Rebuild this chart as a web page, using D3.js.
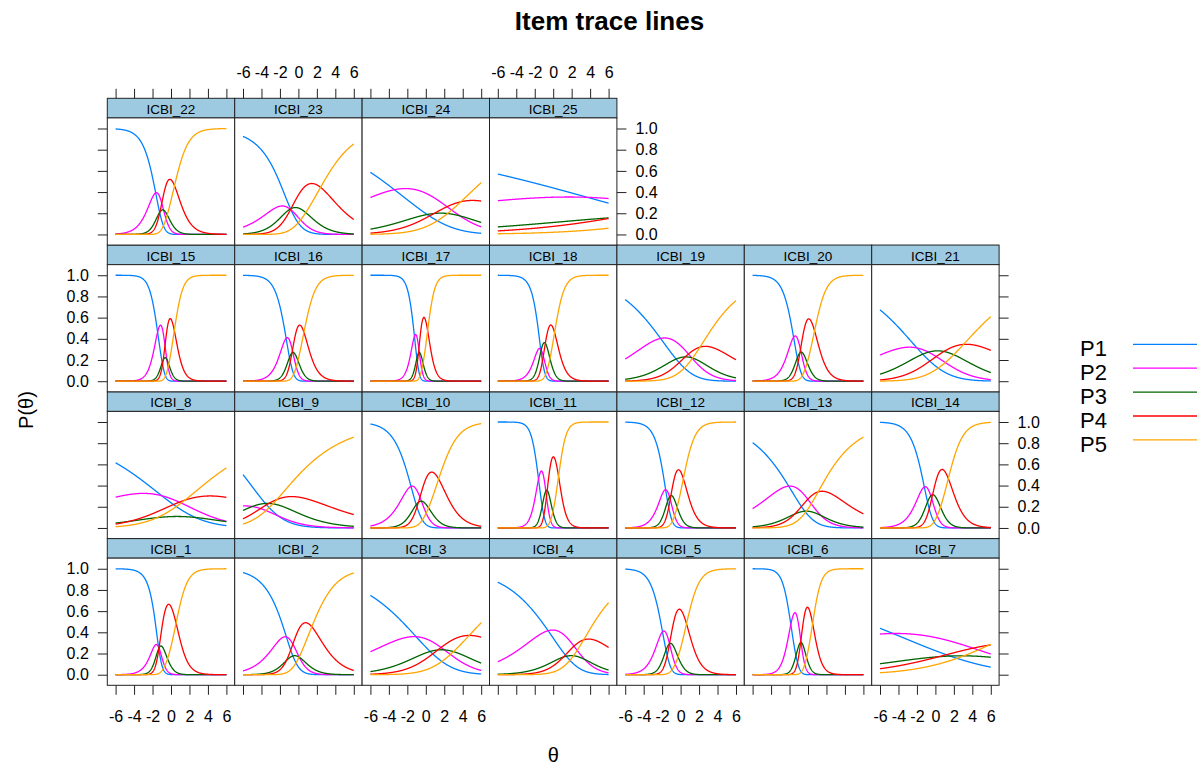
<!DOCTYPE html>
<html>
<head>
<meta charset="utf-8">
<title>Item trace lines</title>
<script src="https://cdn.jsdelivr.net/npm/d3@7"></script>
<style>
  html, body { margin: 0; padding: 0; background: #ffffff; }
  svg { display: block; }
  text { font-family: "Liberation Sans", Arial, "DejaVu Sans", sans-serif; fill: #000; }
</style>
</head>
<body>
<svg id="chart" width="1202" height="769"></svg>
<script>
// ---- Item parameters (generalized partial credit model) ----
const itemNames = [
  "ICBI_1", "ICBI_2", "ICBI_3", "ICBI_4", "ICBI_5", "ICBI_6", "ICBI_7",
  "ICBI_8", "ICBI_9", "ICBI_10", "ICBI_11", "ICBI_12", "ICBI_13", "ICBI_14",
  "ICBI_15", "ICBI_16", "ICBI_17", "ICBI_18", "ICBI_19", "ICBI_20", "ICBI_21",
  "ICBI_22", "ICBI_23", "ICBI_24", "ICBI_25"
];

// discrimination (slope) of each item
const slopes = [
  1.6, 0.7, 0.25, 0.36, 1.4, 2.1, 0.095,
  0.15, 0.23, 0.9, 2.4, 1.5, 0.38, 1.2,
  2.1, 1.5, 2.5, 1.8, 0.34, 1.5, 0.25,
  1.25, 0.5, 0.2, 0.06
];

// step locations: theta where adjacent categories cross (P1/P2, P2/P3, P3/P4, P4/P5)
const steps = [
  [-1.35, -1.30, -1.30, 0.55],
  [-1.30, 0.10, -1.30, 1.45],
  [-1.05, 2.00, 1.30, 4.70],
  [-0.55, 3.40, 1.10, 3.30],
  [-1.96, -1.20, -1.20, 0.64],
  [-1.86, -0.75, -0.80, 0.50],
  [-4.60, 7.80, 0.36, 5.80],
  [-1.00, 6.30, -4.50, 1.50],
  [-2.15, -5.00, -3.20, -2.33],
  [-1.60, -0.47, -0.80, 1.39],
  [-1.59, -0.80, -0.65, 0.58],
  [-1.62, -1.20, -1.05, 0.30],
  [-2.09, 1.40, -1.44, 1.10],
  [-1.20, -0.50, -0.30, 1.40],
  [-1.45, -0.45, -0.85, 0.36],
  [-1.33, -0.60, -0.70, 0.60],
  [-1.23, -0.70, -0.80, 0.20],
  [-1.35, -1.30, -0.85, 0.15],
  [-2.17, 1.20, 0.50, 2.10],
  [-1.56, -0.75, -0.88, 0.71],
  [-1.99, -0.75, 0.92, 3.05],
  [-1.66, -0.80, -1.20, 0.38],
  [-0.80, -0.90, -0.80, 2.40],
  [-3.40, 3.70, 0.90, 3.80],
  [3.70, 18.90, 6.60, 21.70]
];

const categories = ["P1", "P2", "P3", "P4", "P5"];
const categoryColors = ["#0080ff", "#ff00ff", "#006400", "#ff0000", "#ffa500"];
const thetaTicks = [-6, -4, -2, 0, 2, 4, 6];
const probTicks = [0, 0.2, 0.4, 0.6, 0.8, 1.0];
const thetaRange = [-6, 6];

// ---- Layout ----
const nCols = 7, nRows = 4;
const plotLeft = 107.3, colW = 127.4;
const gridTop = 98.3, rowH = 146.75, stripH = 19.6;
const panelH = rowH - stripH;

const svg = d3.select("#chart");

const x = d3.scaleLinear().domain([-6.9, 6.9]).range([0, colW]);
const y = d3.scaleLinear().domain([-0.1, 1.1]).range([panelH, 0]);

// theta grid at which the trace lines are evaluated
const thetaGrid = d3.range(0, 481).map(i => thetaRange[0] + i * (thetaRange[1] - thetaRange[0]) / 480);

// category probabilities under the GPCM for one theta
function categoryProbs(a, delta, theta) {
  const z = [0];
  for (let k = 0; k < delta.length; k++) z.push(z[k] + a * (theta - delta[k]));
  const m = d3.max(z);
  const e = z.map(v => Math.exp(v - m));
  const s = d3.sum(e);
  return e.map(v => v / s);
}

function panelPos(i) {
  const rowFromBottom = Math.floor(i / nCols);
  const col = i % nCols;
  const rowTop = gridTop + (nRows - 1 - rowFromBottom) * rowH;
  return { col, rowFromBottom, left: plotLeft + col * colW, stripTop: rowTop, panelTop: rowTop + stripH };
}

const defs = svg.append("defs");
defs.append("clipPath").attr("id", "panelClip")
  .append("rect").attr("x", 0).attr("y", 0).attr("width", colW).attr("height", panelH);
defs.append("clipPath").attr("id", "stripClip")
  .append("rect").attr("x", 0).attr("y", 0).attr("width", colW).attr("height", stripH);

const line = d3.line().x(d => x(d[0])).y(d => y(d[1]));

itemNames.forEach((name, i) => {
  const p = panelPos(i);

  // strip
  const sg = svg.append("g").attr("transform", `translate(${p.left},${p.stripTop})`);
  sg.append("rect").attr("width", colW).attr("height", stripH).attr("fill", "#9ecae1");
  sg.append("g").attr("clip-path", "url(#stripClip)")
    .append("text")
    .attr("x", colW / 2).attr("y", 15.6)
    .attr("text-anchor", "middle")
    .attr("font-size", 13.5)
    .attr("fill", "#111")
    .text(name);
  sg.append("rect").attr("width", colW).attr("height", stripH)
    .attr("fill", "none").attr("stroke", "#222").attr("stroke-width", 1);

  // panel
  const pg = svg.append("g").attr("transform", `translate(${p.left},${p.panelTop})`);
  pg.append("rect").attr("width", colW).attr("height", panelH).attr("fill", "#fff");
  const probs = thetaGrid.map(t => categoryProbs(slopes[i], steps[i], t));
  const cg = pg.append("g").attr("clip-path", "url(#panelClip)");
  categories.forEach((c, k) => {
    cg.append("path")
      .datum(thetaGrid.map((t, j) => [t, probs[j][k]]))
      .attr("d", line)
      .attr("fill", "none")
      .attr("stroke", categoryColors[k])
      .attr("stroke-width", 1.3);
  });
  pg.append("rect").attr("width", colW).attr("height", panelH)
    .attr("fill", "none").attr("stroke", "#222").attr("stroke-width", 1);
});

// ---- Axes ----
function styleAxis(g) {
  g.select(".domain").remove();
  g.selectAll(".tick line").attr("stroke", "#222").attr("stroke-width", 1);
  g.selectAll(".tick text")
    .attr("font-family", '"Liberation Sans", Arial, sans-serif')
    .attr("font-size", 16)
    .attr("fill", "#000");
}
const fmtTheta = d => String(d);           // plain hyphen-minus, as R prints it
const fmtProb = d3.format(".1f");
const blank = () => "";

// top axis over the upper row
itemNames.forEach((name, i) => {
  const p = panelPos(i);
  if (p.rowFromBottom !== nRows - 1) return;
  const labelled = p.col % 2 === 1;
  svg.append("g")
    .attr("transform", `translate(${p.left},${p.stripTop})`)
    .call(d3.axisTop(x).tickValues(thetaTicks).tickSize(9.5).tickPadding(10.5)
      .tickFormat(labelled ? fmtTheta : blank))
    .call(styleAxis);
});

// bottom axis under the lower row
itemNames.forEach((name, i) => {
  const p = panelPos(i);
  if (p.rowFromBottom !== 0) return;
  const labelled = p.col % 2 === 0;
  svg.append("g")
    .attr("transform", `translate(${p.left},${p.panelTop + panelH})`)
    .call(d3.axisBottom(x).tickValues(thetaTicks).tickSize(9.5).tickPadding(16)
      .tickFormat(labelled ? fmtTheta : blank))
    .call(styleAxis);
});

// left and right axes for every row
for (let r = 0; r < nRows; r++) {
  const first = r * nCols;
  const last = Math.min(first + nCols, itemNames.length) - 1;
  const pFirst = panelPos(first), pLast = panelPos(last);
  const leftLabelled = r % 2 === 0;
  svg.append("g")
    .attr("transform", `translate(${pFirst.left},${pFirst.panelTop})`)
    .call(d3.axisLeft(y).tickValues(probTicks).tickSize(9.5).tickPadding(9)
      .tickFormat(leftLabelled ? fmtProb : blank))
    .call(styleAxis);
  svg.append("g")
    .attr("transform", `translate(${pLast.left + colW},${pLast.panelTop})`)
    .call(d3.axisRight(y).tickValues(probTicks).tickSize(9.5).tickPadding(9)
      .tickFormat(!leftLabelled ? fmtProb : blank))
    .call(styleAxis);
}

// ---- Titles ----
svg.append("text")
  .attr("x", 609.5).attr("y", 30)
  .attr("text-anchor", "middle")
  .attr("font-size", 26).attr("font-weight", "bold")
  .text("Item trace lines");

svg.append("text")
  .attr("x", plotLeft + nCols * colW / 2).attr("y", 762)
  .attr("text-anchor", "middle")
  .attr("font-size", 20)
  .text("θ");

svg.append("text")
  .attr("transform", "translate(33,410) rotate(-90)")
  .attr("text-anchor", "middle")
  .attr("font-size", 20)
  .text("P(θ)");

// ---- Legend ----
const legend = svg.append("g").attr("transform", "translate(1080,344.3)");
categories.forEach((c, k) => {
  const gy = k * 23.9;
  legend.append("text").attr("x", 0).attr("y", gy + 12).attr("font-size", 22).text(c);
  legend.append("line")
    .attr("x1", 53).attr("x2", 117).attr("y1", gy).attr("y2", gy)
    .attr("stroke", categoryColors[k]).attr("stroke-width", 1.3);
});
</script>
</body>
</html>
